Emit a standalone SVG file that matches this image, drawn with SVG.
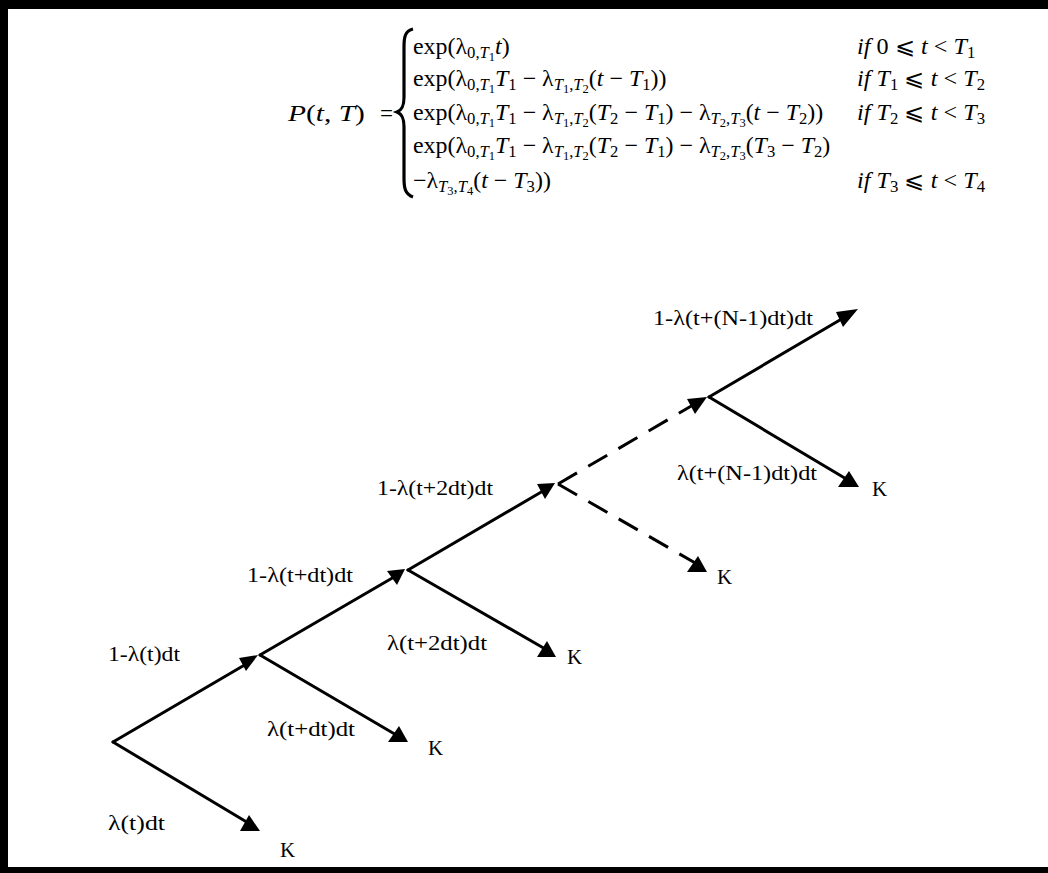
<svg xmlns="http://www.w3.org/2000/svg" width="1048" height="873" viewBox="0 0 1048 873">
<defs>
<style>
text{font-family:"Liberation Serif","Times New Roman",serif;fill:#000}
.lbl{font-size:20px}
.k{font-size:21px}
.eq{font-size:23px}
.i{font-style:italic}
.s{font-size:16px}
.ss{font-size:12px}
.ln{stroke:#000;stroke-width:3;fill:none;stroke-linecap:round}
.dash{stroke-dasharray:22 13;stroke-linecap:butt}
.ah{fill:#000;stroke:none}
</style>
</defs>
<rect width="1048" height="873" fill="#fff"/>
<g id="frame">
<rect x="0" y="0" width="1048" height="9" fill="#000"/>
<rect x="0" y="0" width="8" height="873" fill="#000"/>
<rect x="0" y="867" width="1048" height="6" fill="#000"/>
</g>
<g id="equation">
<g transform="translate(288,0) scale(1.28,1)">
<text class="eq" x="0" y="121"><tspan class="i">P</tspan>(<tspan class="i">t</tspan>, <tspan class="i">T</tspan>)</text>
</g>
<text class="eq" x="380" y="121">=</text>
<path d="M413 29 C405 31 404 37 404 47 L404 97 C404 106 402 110 397 112 C402 114 404 118 404 127 L404 178 C404 188 405 194 413 197" stroke="#000" stroke-width="3.2" fill="none"/>
<g transform="translate(413,0) scale(1.04,1)">
<text class="eq" x="0" y="54">exp(λ<tspan class="s" dy="4">0,</tspan><tspan class="s i">T</tspan><tspan class="ss" dy="3">1</tspan><tspan class="i" dy="-7">t</tspan>)</text>
<text class="eq" x="0" y="86">exp(λ<tspan class="s" dy="4">0,</tspan><tspan class="s i">T</tspan><tspan class="ss" dy="3">1</tspan><tspan class="i" dy="-7">T</tspan><tspan class="s" dy="4">1</tspan><tspan dy="-4"> − λ</tspan><tspan class="s i" dy="4">T</tspan><tspan class="ss" dy="3">1</tspan><tspan class="s" dy="-3">,</tspan><tspan class="s i">T</tspan><tspan class="ss" dy="3">2</tspan><tspan dy="-7">(</tspan><tspan class="i">t</tspan> − <tspan class="i">T</tspan><tspan class="s" dy="4">1</tspan><tspan dy="-4">))</tspan></text>
<text class="eq" x="0" y="120">exp(λ<tspan class="s" dy="4">0,</tspan><tspan class="s i">T</tspan><tspan class="ss" dy="3">1</tspan><tspan class="i" dy="-7">T</tspan><tspan class="s" dy="4">1</tspan><tspan dy="-4"> − λ</tspan><tspan class="s i" dy="4">T</tspan><tspan class="ss" dy="3">1</tspan><tspan class="s" dy="-3">,</tspan><tspan class="s i">T</tspan><tspan class="ss" dy="3">2</tspan><tspan dy="-7">(</tspan><tspan class="i">T</tspan><tspan class="s" dy="4">2</tspan><tspan dy="-4"> − </tspan><tspan class="i">T</tspan><tspan class="s" dy="4">1</tspan><tspan dy="-4">) − λ</tspan><tspan class="s i" dy="4">T</tspan><tspan class="ss" dy="3">2</tspan><tspan class="s" dy="-3">,</tspan><tspan class="s i">T</tspan><tspan class="ss" dy="3">3</tspan><tspan dy="-7">(</tspan><tspan class="i">t</tspan> − <tspan class="i">T</tspan><tspan class="s" dy="4">2</tspan><tspan dy="-4">))</tspan></text>
<text class="eq" x="0" y="153">exp(λ<tspan class="s" dy="4">0,</tspan><tspan class="s i">T</tspan><tspan class="ss" dy="3">1</tspan><tspan class="i" dy="-7">T</tspan><tspan class="s" dy="4">1</tspan><tspan dy="-4"> − λ</tspan><tspan class="s i" dy="4">T</tspan><tspan class="ss" dy="3">1</tspan><tspan class="s" dy="-3">,</tspan><tspan class="s i">T</tspan><tspan class="ss" dy="3">2</tspan><tspan dy="-7">(</tspan><tspan class="i">T</tspan><tspan class="s" dy="4">2</tspan><tspan dy="-4"> − </tspan><tspan class="i">T</tspan><tspan class="s" dy="4">1</tspan><tspan dy="-4">) − λ</tspan><tspan class="s i" dy="4">T</tspan><tspan class="ss" dy="3">2</tspan><tspan class="s" dy="-3">,</tspan><tspan class="s i">T</tspan><tspan class="ss" dy="3">3</tspan><tspan dy="-7">(</tspan><tspan class="i">T</tspan><tspan class="s" dy="4">3</tspan><tspan dy="-4"> − </tspan><tspan class="i">T</tspan><tspan class="s" dy="4">2</tspan><tspan dy="-4">)</tspan></text>
<text class="eq" x="0" y="188">−λ<tspan class="s i" dy="4">T</tspan><tspan class="ss" dy="3">3</tspan><tspan class="s" dy="-3">,</tspan><tspan class="s i">T</tspan><tspan class="ss" dy="3">4</tspan><tspan dy="-7">(</tspan><tspan class="i">t</tspan> − <tspan class="i">T</tspan><tspan class="s" dy="4">3</tspan><tspan dy="-4">))</tspan></text>
</g>
<g transform="translate(857,0) scale(1.05,1)">
<text class="eq" x="0" y="54"><tspan class="i">if</tspan> 0 ⩽ <tspan class="i">t</tspan> &lt; <tspan class="i">T</tspan><tspan class="s" dy="4">1</tspan></text>
<text class="eq" x="0" y="86"><tspan class="i">if T</tspan><tspan class="s" dy="4">1</tspan><tspan dy="-4"> ⩽ </tspan><tspan class="i">t</tspan> &lt; <tspan class="i">T</tspan><tspan class="s" dy="4">2</tspan></text>
<text class="eq" x="0" y="120"><tspan class="i">if T</tspan><tspan class="s" dy="4">2</tspan><tspan dy="-4"> ⩽ </tspan><tspan class="i">t</tspan> &lt; <tspan class="i">T</tspan><tspan class="s" dy="4">3</tspan></text>
<text class="eq" x="0" y="188"><tspan class="i">if T</tspan><tspan class="s" dy="4">3</tspan><tspan dy="-4"> ⩽ </tspan><tspan class="i">t</tspan> &lt; <tspan class="i">T</tspan><tspan class="s" dy="4">4</tspan></text>
</g>
</g>
<g id="connectors">
<line class="ln" x1="113" y1="742" x2="248" y2="663"/>
<line class="ln" x1="113" y1="742" x2="250" y2="824"/>
<line class="ln" x1="260" y1="655" x2="394" y2="577"/>
<line class="ln" x1="260" y1="655" x2="398" y2="736"/>
<line class="ln" x1="408" y1="570" x2="543" y2="491"/>
<line class="ln" x1="408" y1="570" x2="547" y2="650"/>
<line class="ln dash" x1="558" y1="484" x2="693" y2="405"/>
<line class="ln dash" x1="558" y1="484" x2="697" y2="564"/>
<line class="ln" x1="709" y1="397" x2="845" y2="317"/>
<line class="ln" x1="709" y1="397" x2="848" y2="480"/>
<polygon class="ah" points="258,655 246,671 239,658"/>
<polygon class="ah" points="387,571 405,569 397,585"/>
<polygon class="ah" points="537,484 555,483 545,499"/>
<polygon class="ah" points="687,399 707,397 695,414"/>
<polygon class="ah" points="836,312 858,309 843,327"/>
<polygon class="ah" points="240,831 260,831 249,815"/>
<polygon class="ah" points="388,742 408,742 399,726"/>
<polygon class="ah" points="537,657 556,657 547,641"/>
<polygon class="ah" points="687,572 707,572 698,556"/>
<polygon class="ah" points="838,487 859,487 849,471"/>
</g>
<g id="node-0">
<text class="lbl" x="108" y="661" textLength="72" lengthAdjust="spacingAndGlyphs">1-λ(t)dt</text>
<text class="lbl" x="108" y="830" textLength="57" lengthAdjust="spacingAndGlyphs">λ(t)dt</text>
<text class="k" x="280" y="857">K</text>
</g>
<g id="node-1">
<text class="lbl" x="247" y="582" textLength="106" lengthAdjust="spacingAndGlyphs">1-λ(t+dt)dt</text>
<text class="lbl" x="267" y="736" textLength="88" lengthAdjust="spacingAndGlyphs">λ(t+dt)dt</text>
<text class="k" x="428" y="755">K</text>
</g>
<g id="node-2">
<text class="lbl" x="377" y="495" textLength="116" lengthAdjust="spacingAndGlyphs">1-λ(t+2dt)dt</text>
<text class="lbl" x="387" y="650" textLength="100" lengthAdjust="spacingAndGlyphs">λ(t+2dt)dt</text>
<text class="k" x="567" y="664">K</text>
</g>
<g id="node-3">
<text class="k" x="717" y="584">K</text>
</g>
<g id="node-4">
<text class="lbl" x="653" y="325" textLength="160" lengthAdjust="spacingAndGlyphs">1-λ(t+(N-1)dt)dt</text>
<text class="lbl" x="677" y="480" textLength="140" lengthAdjust="spacingAndGlyphs">λ(t+(N-1)dt)dt</text>
<text class="k" x="872" y="496">K</text>
</g>
</svg>
